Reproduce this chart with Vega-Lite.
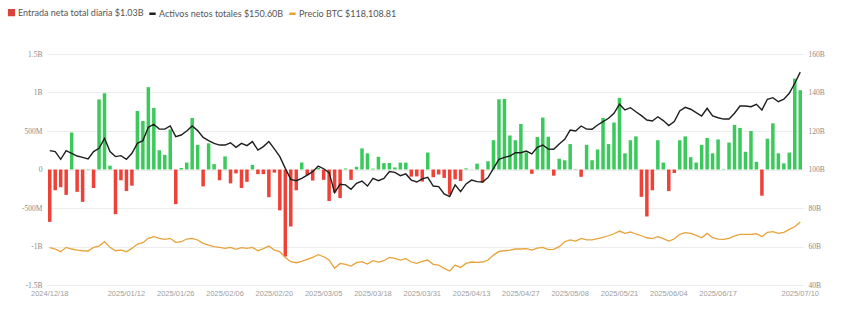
{
"$schema": "https://vega.github.io/schema/vega-lite/v6.json",
"width": 756, "height": 231,
"autosize": {"type": "none"},
"padding": {"left": 47, "top": 54, "right": 47, "bottom": 29},
"background": "white",
"config": {"view": {"stroke": null}, "font": "Lato"},
"data": {"values": [
{"d":"2024/12/18","f":-0.68,"a":109.8,"p":96.2},
{"d":"2024/12/19","f":-0.27,"a":109.3,"p":95.1},
{"d":"2024/12/22","f":-0.23,"a":105.3,"p":92.8},
{"d":"2024/12/23","f":-0.33,"a":109.8,"p":96.5},
{"d":"2024/12/25","f":0.48,"a":108.4,"p":95.1},
{"d":"2024/12/26","f":-0.29,"a":107.0,"p":94.2},
{"d":"2024/12/29","f":-0.42,"a":106.3,"p":93.6},
{"d":"2024/12/30","f":0.005,"a":105.5,"p":93.4},
{"d":"2025/01/01","f":-0.24,"a":109.3,"p":96.5},
{"d":"2025/01/02","f":0.91,"a":111.0,"p":97.6},
{"d":"2025/01/05","f":0.99,"a":116.2,"p":101.3},
{"d":"2025/01/06","f":0.05,"a":109.3,"p":96.5},
{"d":"2025/01/07","f":-0.58,"a":106.7,"p":93.6},
{"d":"2025/01/09","f":-0.14,"a":107.2,"p":94.2},
{"d":"2025/01/12","f":-0.28,"a":105.3,"p":92.8},
{"d":"2025/01/13","f":-0.21,"a":108.4,"p":95.6},
{"d":"2025/01/14","f":0.76,"a":113.6,"p":99.3},
{"d":"2025/01/15","f":0.63,"a":115.0,"p":100.5},
{"d":"2025/01/16","f":1.07,"a":121.9,"p":104.2},
{"d":"2025/01/20","f":0.80,"a":123.5,"p":105.6},
{"d":"2025/01/21","f":0.25,"a":121.0,"p":104.2},
{"d":"2025/01/22","f":0.19,"a":121.0,"p":103.3},
{"d":"2025/01/23","f":0.52,"a":122.6,"p":104.2},
{"d":"2025/01/26","f":-0.45,"a":117.1,"p":100.8},
{"d":"2025/01/27","f":0.02,"a":117.9,"p":101.3},
{"d":"2025/01/28","f":0.09,"a":120.0,"p":103.6},
{"d":"2025/01/29","f":0.67,"a":122.6,"p":104.2},
{"d":"2025/01/30","f":0.32,"a":120.2,"p":102.8},
{"d":"2025/02/02","f":-0.22,"a":116.7,"p":99.9},
{"d":"2025/02/03","f":0.34,"a":115.0,"p":98.5},
{"d":"2025/02/04","f":0.07,"a":113.6,"p":97.1},
{"d":"2025/02/05","f":-0.14,"a":112.7,"p":96.5},
{"d":"2025/02/06","f":0.17,"a":112.7,"p":95.6},
{"d":"2025/02/09","f":-0.18,"a":113.9,"p":96.5},
{"d":"2025/02/10","f":-0.05,"a":111.5,"p":94.8},
{"d":"2025/02/11","f":-0.24,"a":113.6,"p":96.2},
{"d":"2025/02/12","f":-0.16,"a":112.4,"p":95.6},
{"d":"2025/02/13","f":0.06,"a":114.5,"p":96.5},
{"d":"2025/02/17","f":-0.06,"a":110.1,"p":93.6},
{"d":"2025/02/18","f":-0.06,"a":111.9,"p":95.4},
{"d":"2025/02/19","f":-0.36,"a":114.5,"p":97.6},
{"d":"2025/02/20","f":-0.04,"a":110.7,"p":94.2},
{"d":"2025/02/23","f":-0.53,"a":106.7,"p":92.8},
{"d":"2025/02/24","f":-1.13,"a":100.6,"p":87.9},
{"d":"2025/02/25","f":-0.74,"a":94.9,"p":84.3},
{"d":"2025/02/26","f":-0.27,"a":94.2,"p":83.4},
{"d":"2025/02/27","f":0.09,"a":95.4,"p":84.5},
{"d":"2025/03/02","f":-0.074,"a":97.1,"p":86.3},
{"d":"2025/03/03","f":-0.143,"a":98.9,"p":87.9},
{"d":"2025/03/04","f":0.022,"a":101.8,"p":90.2},
{"d":"2025/03/05","f":-0.134,"a":100.4,"p":88.5},
{"d":"2025/03/06","f":-0.409,"a":98.4,"p":85.7},
{"d":"2025/03/09","f":-0.30,"a":88.0,"p":78.6},
{"d":"2025/03/10","f":-0.371,"a":92.3,"p":82.8},
{"d":"2025/03/11","f":0.013,"a":92.0,"p":82.0},
{"d":"2025/03/12","f":-0.135,"a":89.7,"p":80.6},
{"d":"2025/03/13","f":0.035,"a":92.8,"p":83.4},
{"d":"2025/03/16","f":0.274,"a":94.0,"p":84.3},
{"d":"2025/03/17","f":0.209,"a":91.4,"p":82.3},
{"d":"2025/03/18","f":0.011,"a":95.4,"p":85.1},
{"d":"2025/03/19","f":0.165,"a":94.2,"p":84.0},
{"d":"2025/03/20","f":0.083,"a":95.4,"p":85.1},
{"d":"2025/03/23","f":0.084,"a":98.9,"p":87.9},
{"d":"2025/03/24","f":0.027,"a":98.5,"p":87.1},
{"d":"2025/03/25","f":0.089,"a":96.8,"p":85.7},
{"d":"2025/03/26","f":0.089,"a":97.7,"p":86.8},
{"d":"2025/03/27","f":-0.093,"a":94.5,"p":84.0},
{"d":"2025/03/30","f":-0.09,"a":93.5,"p":82.8},
{"d":"2025/03/31","f":-0.157,"a":95.1,"p":84.5},
{"d":"2025/04/01","f":0.22,"a":95.9,"p":85.7},
{"d":"2025/04/02","f":-0.10,"a":91.4,"p":82.0},
{"d":"2025/04/03","f":-0.064,"a":91.1,"p":81.4},
{"d":"2025/04/06","f":-0.109,"a":87.3,"p":78.6},
{"d":"2025/04/07","f":-0.326,"a":85.9,"p":76.3},
{"d":"2025/04/08","f":-0.127,"a":92.0,"p":81.4},
{"d":"2025/04/09","f":-0.15,"a":88.5,"p":79.4},
{"d":"2025/04/10","f":0.015,"a":92.5,"p":82.8},
{"d":"2025/04/13","f":0.003,"a":94.5,"p":84.0},
{"d":"2025/04/14","f":0.076,"a":93.7,"p":83.7},
{"d":"2025/04/15","f":-0.17,"a":93.5,"p":84.0},
{"d":"2025/04/16","f":0.107,"a":95.8,"p":85.7},
{"d":"2025/04/20","f":0.381,"a":100.6,"p":89.9},
{"d":"2025/04/21","f":0.912,"a":105.3,"p":93.1},
{"d":"2025/04/22","f":0.917,"a":106.3,"p":93.6},
{"d":"2025/04/23","f":0.442,"a":107.0,"p":94.2},
{"d":"2025/04/24","f":0.38,"a":108.7,"p":95.1},
{"d":"2025/04/27","f":0.591,"a":108.7,"p":95.1},
{"d":"2025/04/28","f":0.22,"a":109.6,"p":95.4},
{"d":"2025/04/29","f":-0.056,"a":108.1,"p":94.2},
{"d":"2025/04/30","f":0.422,"a":111.5,"p":95.9},
{"d":"2025/05/01","f":0.675,"a":112.7,"p":96.5},
{"d":"2025/05/04","f":0.425,"a":110.6,"p":94.5},
{"d":"2025/05/05","f":-0.08,"a":110.5,"p":94.8},
{"d":"2025/05/06","f":0.14,"a":113.3,"p":97.1},
{"d":"2025/05/07","f":0.12,"a":115.7,"p":101.3},
{"d":"2025/05/08","f":0.33,"a":120.5,"p":102.8},
{"d":"2025/05/11","f":0.005,"a":120.0,"p":101.9},
{"d":"2025/05/12","f":-0.095,"a":122.6,"p":104.2},
{"d":"2025/05/13","f":0.32,"a":121.0,"p":102.8},
{"d":"2025/05/14","f":0.12,"a":120.9,"p":102.8},
{"d":"2025/05/15","f":0.26,"a":123.1,"p":103.9},
{"d":"2025/05/18","f":0.67,"a":124.9,"p":105.0},
{"d":"2025/05/19","f":0.33,"a":126.6,"p":106.4},
{"d":"2025/05/20","f":0.61,"a":129.2,"p":108.1},
{"d":"2025/05/21","f":0.93,"a":133.9,"p":110.4},
{"d":"2025/05/22","f":0.21,"a":130.9,"p":108.4},
{"d":"2025/05/26","f":0.38,"a":132.1,"p":109.6},
{"d":"2025/05/27","f":0.43,"a":130.0,"p":107.9},
{"d":"2025/05/28","f":-0.355,"a":128.0,"p":106.4},
{"d":"2025/05/29","f":-0.61,"a":125.7,"p":104.7},
{"d":"2025/06/01","f":-0.27,"a":125.2,"p":103.9},
{"d":"2025/06/02","f":0.38,"a":127.4,"p":105.6},
{"d":"2025/06/03","f":0.09,"a":125.4,"p":103.9},
{"d":"2025/06/04","f":-0.28,"a":122.8,"p":101.9},
{"d":"2025/06/05","f":-0.045,"a":124.9,"p":103.6},
{"d":"2025/06/08","f":0.38,"a":130.4,"p":107.6},
{"d":"2025/06/09","f":0.43,"a":132.3,"p":109.0},
{"d":"2025/06/10","f":0.16,"a":131.3,"p":108.4},
{"d":"2025/06/11","f":0.09,"a":129.5,"p":106.7},
{"d":"2025/06/12","f":0.32,"a":127.8,"p":104.7},
{"d":"2025/06/15","f":0.41,"a":131.8,"p":108.4},
{"d":"2025/06/16","f":0.21,"a":127.8,"p":104.7},
{"d":"2025/06/17","f":0.39,"a":126.9,"p":103.6},
{"d":"2025/06/19","f":0.005,"a":126.2,"p":103.3},
{"d":"2025/06/22","f":0.35,"a":126.2,"p":104.2},
{"d":"2025/06/23","f":0.58,"a":129.2,"p":106.2},
{"d":"2025/06/24","f":0.54,"a":133.0,"p":107.6},
{"d":"2025/06/25","f":0.23,"a":133.0,"p":107.6},
{"d":"2025/06/26","f":0.50,"a":132.6,"p":107.6},
{"d":"2025/06/29","f":0.10,"a":133.9,"p":108.1},
{"d":"2025/06/30","f":-0.34,"a":130.9,"p":105.6},
{"d":"2025/07/01","f":0.40,"a":136.5,"p":109.3},
{"d":"2025/07/02","f":0.60,"a":137.3,"p":109.9},
{"d":"2025/07/06","f":0.21,"a":135.2,"p":108.4},
{"d":"2025/07/07","f":0.08,"a":136.5,"p":109.3},
{"d":"2025/07/08","f":0.22,"a":139.6,"p":111.8},
{"d":"2025/07/09","f":1.18,"a":144.8,"p":114.1},
{"d":"2025/07/10","f":1.03,"a":150.6,"p":118.1}
]},
"encoding": {
  "x": {"field": "d", "type": "ordinal", "sort": null,
    "scale": {"paddingInner": 0.36, "paddingOuter": 0.18},
    "axis": {"title": null, "labelAngle": 0, "domain": false, "ticks": false, "grid": false,
      "values": ["2024/12/18","2025/01/12","2025/01/26","2025/02/06","2025/02/20","2025/03/05","2025/03/18","2025/03/31","2025/04/13","2025/04/27","2025/05/08","2025/05/21","2025/06/04","2025/06/17","2025/07/10"],
      "labelOverlap": false, "labelFont": "Liberation Sans", "labelFontSize": 7.5, "labelColor": "#a0a0a0", "labelPadding": 4}}
},
"layer": [
  {"mark": {"type": "bar"},
   "encoding": {
     "y": {"field": "f", "type": "quantitative", "scale": {"domain": [-1.5, 1.5], "nice": false, "zero": false},
       "axis": {"orient": "left", "title": null, "values": [-1.5,-1,-0.5,0,0.5,1,1.5],
         "labelExpr": "datum.value == 0 ? '0' : (abs(datum.value) >= 1 ? datum.value + 'B' : (datum.value * 1000) + 'M')",
         "domain": false, "ticks": false, "grid": true, "gridColor": "#ececec", "gridWidth": 1,
         "labelFont": "Liberation Serif", "labelFontSize": 7.5, "labelColor": "#8a8a8a", "labelPadding": 5}},
     "fill": {"condition": {"test": "datum.f < 0", "value": "#ee4137"}, "value": "#3cc95c"}
   }},
  {"mark": {"type": "line", "strokeWidth": 1.4},
   "encoding": {
     "y": {"field": "a", "type": "quantitative", "scale": {"domain": [40, 160], "nice": false, "zero": false},
       "axis": {"orient": "right", "title": null, "values": [40,60,80,100,120,140,160],
         "labelExpr": "datum.value + 'B'", "domain": false, "ticks": false, "grid": false,
         "labelFont": "Liberation Serif", "labelFontSize": 7.5, "labelColor": "#8a8a8a", "labelPadding": 5}},
     "color": {"datum": "Activos netos totales $150.60B",
       "scale": {"domain": ["Entrada neta total diaria $1.03B", "Activos netos totales $150.60B", "Precio BTC $118,108.81"],
                 "range": ["#d9453d", "#1e1e1e", "#e8a23a"]},
       "legend": {"title": null, "orient": "none", "legendX": -40, "legendY": -46, "direction": "horizontal",
         "labelFont": "Lato", "labelFontSize": 9, "labelColor": "#555555", "labelOffset": 2,
         "columnPadding": 0, "symbolSize": 40, "symbolStrokeWidth": 2.5,
         "encode": {"symbols": {"update": {
            "shape": {"signal": "datum.index === 0 ? 'square' : 'stroke'"},
            "fill": {"signal": "datum.index === 0 ? '#d9453d' : 'transparent'"},
            "size": {"signal": "datum.index === 0 ? 22 : 40"}}}}}}
   }},
  {"mark": {"type": "line", "strokeWidth": 1.3},
   "encoding": {
     "y": {"field": "p", "type": "quantitative", "scale": {"domain": [64.4, 261.4], "nice": false, "zero": false}, "axis": null},
     "color": {"datum": "Precio BTC $118,108.81"}
   }}
],
"resolve": {"scale": {"y": "independent"}}
}
